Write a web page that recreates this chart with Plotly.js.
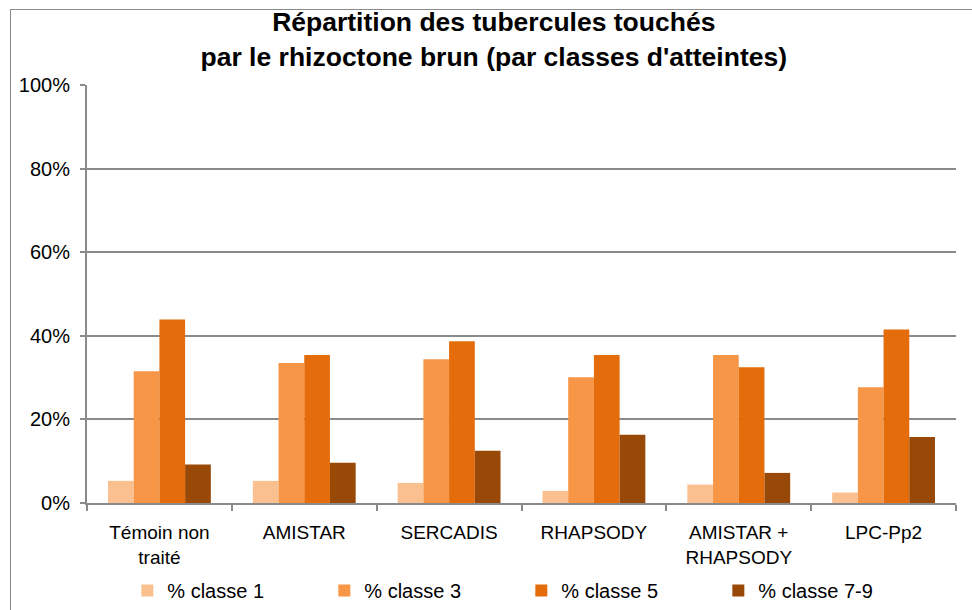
<!DOCTYPE html>
<html>
<head>
<meta charset="utf-8">
<script src="https://cdn.plot.ly/plotly-3.0.1.min.js"></script>
<style>
  html, body { margin: 0; padding: 0; background: #ffffff; }
  #chart { width: 972px; height: 610px; position: absolute; left: 0; top: 0; }
  #frame { position: absolute; left: 10px; top: 9px; width: 1000px; height: 700px;
           border: 1.5px solid #8a8a8a; pointer-events: none; }
</style>
</head>
<body>
<div id="frame"></div>
<div id="chart"></div>
<script>
const categories = ["Témoin non<br>traité", "AMISTAR", "SERCADIS", "RHAPSODY", "AMISTAR +<br>RHAPSODY", "LPC-Pp2"];
const seriesNames = ["% classe 1", "% classe 3", "% classe 5", "% classe 7-9"];
const classe1 = [0.053, 0.053, 0.048, 0.029, 0.044, 0.025];
const classe3 = [0.315, 0.335, 0.344, 0.301, 0.354, 0.277];
const classe5 = [0.439, 0.354, 0.387, 0.354, 0.325, 0.415];
const classe79 = [0.092, 0.096, 0.125, 0.163, 0.072, 0.158];
const yTickVals = [0, 0.2, 0.4, 0.6, 0.8, 1.0];
const yTickText = ["0%", "20%", "40%", "60%", "80%", "100%"];
const colors = ["#FAC090", "#F79646", "#E46C0A", "#984807"];

const values = [classe1, classe3, classe5, classe79];
const traces = values.map((v, i) => ({
  type: "bar",
  name: seriesNames[i],
  x: categories,
  y: v,
  marker: { color: colors[i], line: { width: 0 } },
  hoverinfo: "x+y+name"
}));

const font = { family: "Liberation Sans, Arial, sans-serif", color: "#000000" };

const layout = {
  width: 972,
  height: 610,
  paper_bgcolor: "rgba(0,0,0,0)",
  plot_bgcolor: "rgba(0,0,0,0)",
  margin: { l: 87, r: 16, t: 84.5, b: 107, pad: 0 },
  font: Object.assign({ size: 20 }, font),
  title: {
    text: "<b>Répartition des tubercules touchés<br>par le rhizoctone brun (par classes d'atteintes)</b>",
    font: Object.assign({}, font, { size: 26.5 }),
    x: 0.508, xref: "container", xanchor: "center",
    y: 0.949, yref: "container", yanchor: "middle"
  },
  barmode: "group",
  bargap: 0.29,
  bargroupgap: 0,
  xaxis: {
    type: "category",
    showline: true, linecolor: "#8a8a8a", linewidth: 2,
    ticks: "outside", tickson: "boundaries", ticklen: 6, tickcolor: "#8a8a8a", tickwidth: 2,
    tickfont: Object.assign({}, font, { size: 19 }),
    showgrid: false, zeroline: false,
    ticklabelstandoff: 11
  },
  yaxis: {
    range: [0, 1],
    tickvals: yTickVals, ticktext: yTickText,
    showline: true, linecolor: "#8a8a8a", linewidth: 2,
    ticks: "outside", ticklen: 5, tickcolor: "#8a8a8a", tickwidth: 2,
    showgrid: true, gridcolor: "#8a8a8a", gridwidth: 2,
    zeroline: false,
    tickfont: Object.assign({}, font, { size: 20 }),
    ticklabelstandoff: 6
  },
  legend: {
    orientation: "h",
    xref: "container", yref: "container",
    x: 0.131, xanchor: "left",
    y: 0.032, yanchor: "middle",
    entrywidth: 152, entrywidthmode: "pixels",
    itemwidth: 30,
    font: Object.assign({}, font, { size: 20 }),
    bgcolor: "rgba(0,0,0,0)"
  },
  showlegend: true
};

Plotly.newPlot("chart", traces, layout, { staticPlot: true, displayModeBar: false });
</script>
</body>
</html>
